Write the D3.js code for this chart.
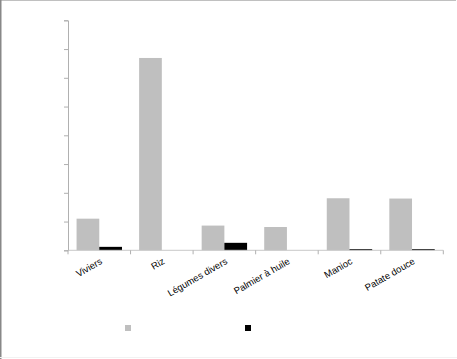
<!DOCTYPE html>
<html>
<head>
<meta charset="utf-8">
<script src="https://cdn.jsdelivr.net/npm/d3@7"></script>
<style>
  body { margin: 0; background: #fff; }
  svg { display: block; }
</style>
</head>
<body>
<svg id="chart" width="457" height="359"></svg>
<script>
const categories = ["Viviers", "Riz", "Légumes divers", "Palmier à huile", "Manioc", "Patate douce"];
const series = ["Série 1", "Série 2"];
const serie1 = [1.10, 6.69, 0.86, 0.81, 1.81, 1.80];
const serie2 = [0.12, 0, 0.26, 0, 0.04, 0.04];
const yTicks = [0, 1, 2, 3, 4, 5, 6, 7, 8];

const colors = ["#bfbfbf", "#000000"];

const svg = d3.select("#chart");

// frame lines
svg.append("line").attr("x1", 0).attr("x2", 456).attr("y1", 0.5).attr("y2", 0.5)
  .attr("stroke", "#c0c0c0");
svg.append("line").attr("x1", 0.75).attr("x2", 0.75).attr("y1", 0).attr("y2", 359)
  .attr("stroke", "#888").attr("stroke-width", 1.5);
svg.append("line").attr("x1", 0).attr("x2", 457).attr("y1", 357.5).attr("y2", 357.5)
  .attr("stroke", "#f2f2f2");

const left = 68, right = 443.3;

const x = d3.scaleBand()
  .domain(categories)
  .range([left, right])
  .padding(0);

const xSub = d3.scaleBand()
  .domain(series)
  .range([0, x.bandwidth()])
  .paddingOuter(0.377)
  .paddingInner(0);

const y = d3.scaleLinear()
  .domain([0, 8])
  .range([250.3, 20.3]);

const rows = categories.map((c, i) => ({ cat: c, vals: [serie1[i], serie2[i]] }));

const groups = svg.append("g").selectAll("g")
  .data(rows)
  .join("g")
  .attr("transform", d => `translate(${x(d.cat)},0)`);

groups.selectAll("rect")
  .data(d => d.vals.map((v, j) => ({ key: series[j], v, j })))
  .join("rect")
  .attr("x", d => xSub(d.key))
  .attr("width", xSub.bandwidth())
  .attr("y", d => y(d.v))
  .attr("height", d => y(0) - y(d.v))
  .attr("fill", d => colors[d.j]);

// y axis (labels hidden as in the original)
const yAxis = svg.append("g")
  .attr("transform", `translate(${left},0)`)
  .call(d3.axisLeft(y).tickValues(yTicks).tickSize(4).tickFormat(""));
yAxis.selectAll("line, path").attr("stroke", "#b0b0b0");

// x axis
const xAxis = svg.append("g")
  .attr("transform", `translate(0,${y(0)})`);
xAxis.append("line")
  .attr("x1", left).attr("x2", right)
  .attr("stroke", "#c8c8c8");
xAxis.selectAll(".tk")
  .data(categories.map(c => x(c)).concat([right]))
  .join("line")
  .attr("class", "tk")
  .attr("x1", d => d).attr("x2", d => d)
  .attr("y1", 0).attr("y2", 4)
  .attr("stroke", "#b0b0b0");

xAxis.selectAll("text")
  .data(categories)
  .join("text")
  .attr("transform", d => `translate(${x(d) + x.bandwidth() / 2 + 2},10) rotate(-30)`)
  .attr("text-anchor", "end")
  .attr("dy", "0.35em")
  .attr("font-family", "Liberation Sans, Arial, sans-serif")
  .attr("font-size", 9.5)
  .attr("fill", "#000")
  .text(d => d);

// legend (text is not visible in the original)
svg.append("g").selectAll("rect")
  .data(series)
  .join("rect")
  .attr("x", (d, i) => [125, 245][i])
  .attr("y", 325)
  .attr("width", 6)
  .attr("height", 6)
  .attr("fill", (d, i) => colors[i]);
</script>
</body>
</html>
